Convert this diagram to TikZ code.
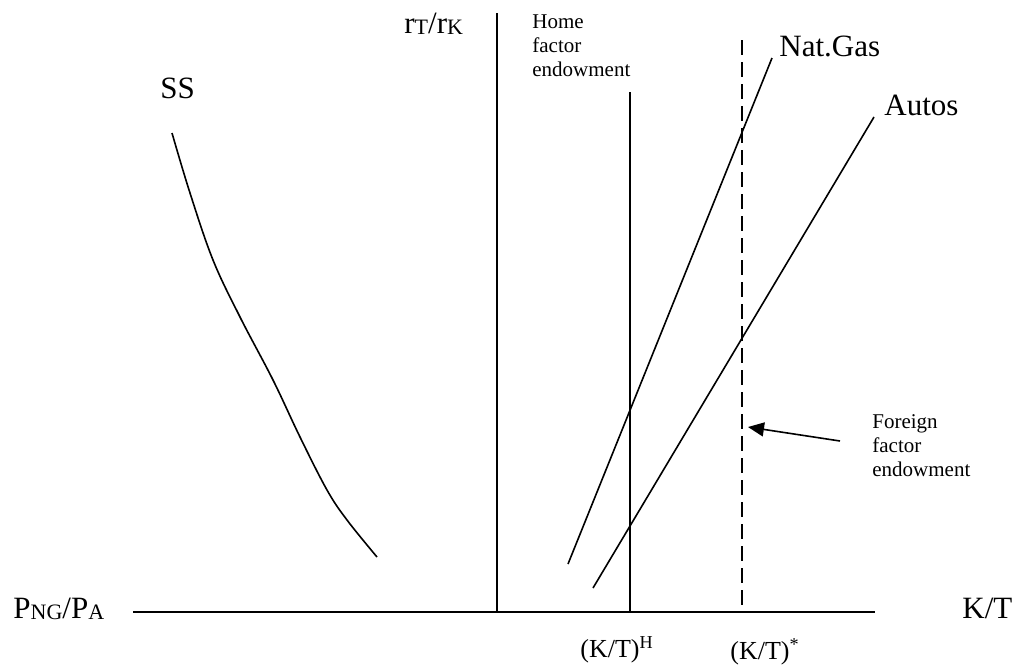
\documentclass[tikz,border=0pt]{standalone}
\usepackage{fontspec}
\setmainfont{Liberation Serif}
\usetikzlibrary{arrows.meta}
\tikzset{
  biglab/.style={font=\fontsize{15.5}{18}\selectfont,inner sep=0pt},
  midlab/.style={font=\fontsize{13}{15}\selectfont,inner sep=0pt},
  smalllab/.style={font=\fontsize{10.5}{12}\selectfont,inner sep=0pt,align=left},
  axisline/.style={line width=1pt},
  curveline/.style={line width=0.8pt}
}
\newcommand{\lowsub}[1]{\raisebox{-0.1ex}{\fontsize{11}{12}\selectfont #1}}
\begin{document}
\begin{tikzpicture}[x=0.5pt,y=-0.5pt]
\useasboundingbox (0,0) rectangle (1028,665);
% axes
\coordinate (xl) at (133,612); \coordinate (xr) at (875,612);
\coordinate (org) at (497,612); \coordinate (yt) at (497,13);
\draw[axisline] (xl) -- (xr);
\draw[axisline] (org) -- (yt);
% endowment lines
\coordinate (hometop) at (630,92); \coordinate (homebot) at (630,612);
\coordinate (fortop) at (742,40); \coordinate (forbot) at (742,612);
\draw[curveline] (hometop) -- (homebot);
\draw[curveline,dash pattern=on 7.5pt off 3.5pt] (fortop) -- (forbot);
% industry lines
\coordinate (nglow) at (568,564); \coordinate (nghigh) at (772,58);
\coordinate (alow) at (593,588); \coordinate (ahigh) at (874,117);
\draw[curveline] (nglow) -- (nghigh);
\draw[curveline] (alow) -- (ahigh);
% SS curve
\draw[curveline] plot[smooth,tension=0.6] coordinates {(172,133) (190,193) (213,260) (240,317) (273,380) (300,437) (327,490) (347,520) (377,557)};
% labels
\node[biglab,anchor=base west] (ratio) at (404,33) {r\lowsub{T}/r\lowsub{K}};
\node[smalllab,anchor=north west] (homelab) at (532,14) {Home\\factor\\endowment};
\node[biglab,anchor=base west] (nglab) at (779,56) {Nat.Gas};
\node[biglab,anchor=base west] (autolab) at (884,115) {Autos};
\node[biglab,anchor=base west] (sslab) at (160,98) {SS};
\node[biglab,anchor=base west] (pricelab) at (13,618) {P\lowsub{NG}/P\lowsub{A}};
\node[biglab,anchor=base west] (ktlab) at (962,618) {K/T};
\node[midlab,anchor=base west] (khlab) at (580,657) {(K/T)\textsuperscript{H}};
\node[midlab,anchor=base west] (kflab) at (730,659) {(K/T)\textsuperscript{*}};
\node[smalllab,anchor=north west] (forlab) at (872,414) {Foreign\\factor\\endowment};
% arrow to foreign line
\coordinate (arrtail) at (840,441); \coordinate (arrtip) at (748,427);
\draw[curveline,-{Triangle[length=8pt,width=7pt]}] (arrtail) -- (arrtip);
\end{tikzpicture}
\end{document}
